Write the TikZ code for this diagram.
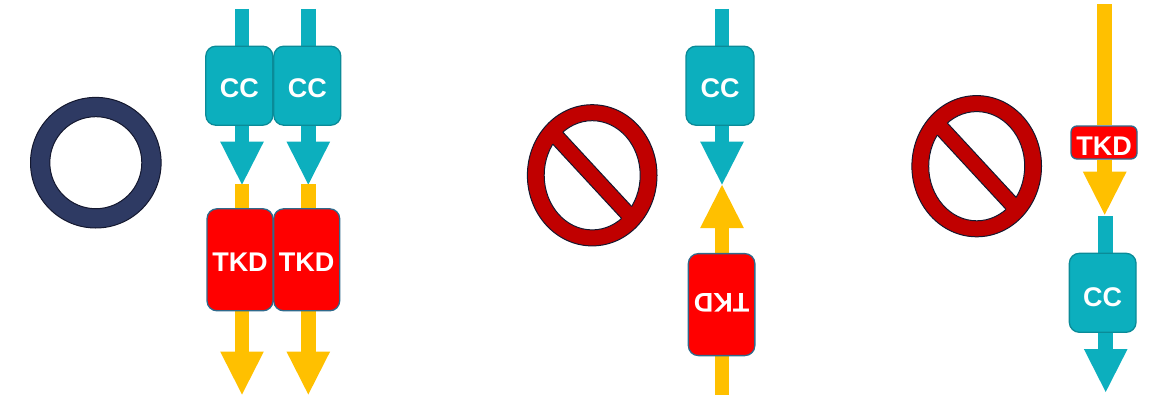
\documentclass[tikz,border=0pt]{standalone}
\usepackage{fontspec}
\setmainfont{Liberation Sans}
\usetikzlibrary{arrows.meta,backgrounds}
\definecolor{teal1}{HTML}{0CAFBE}
\definecolor{teal2}{HTML}{0A8B98}
\definecolor{red1}{HTML}{FF0000}
\definecolor{red2}{HTML}{2F6A8C}
\definecolor{gold1}{HTML}{FFC000}
\definecolor{navy1}{HTML}{2E3A63}
\definecolor{ink1}{HTML}{14182F}
\definecolor{stop1}{HTML}{C00000}
\newcommand{\lifted}[2]{\smash{\raisebox{-#1pt}{#2}}}
\tikzset{
  x=1pt,y=-1pt,
  box/.style={draw,rounded corners=10pt,inner sep=0pt,line width=1.3pt,text=white,
    font=\fontsize{27}{27}\selectfont\bfseries},
  ccbox/.style={box,fill=teal1,draw=teal2,minimum width=67pt,minimum height=79pt},
  tkdbox/.style={box,fill=red1,draw=red2,minimum width=66pt,minimum height=102pt},
  tkdsmall/.style={box,fill=red1,draw=red2,minimum width=66pt,minimum height=33pt,rounded corners=6pt},
  shaft/.style={line width=14.6pt},
  tealline/.style={shaft,draw=teal1},
  goldline/.style={shaft,draw=gold1},
  tipped/.style={-{Triangle[length=43pt,width=43.7pt,line width=0pt]}},
  nosign/.pic={
    \fill[stop1,draw=ink1,line width=1pt] (0,0) ellipse [x radius=64.8,y radius=70.6];
    \fill[white,draw=ink1,line width=1pt] (0,0) ellipse [x radius=48,y radius=54.6];
    \fill[stop1] (-41+5.33,-44.3-5.67) -- (41+5.33,44.3-5.67) -- (41-5.33,44.3+5.67) -- (-41-5.33,-44.3+5.67) -- cycle;
    \begin{scope}
      \clip (0,0) ellipse [x radius=48,y radius=54.6];
      \draw[ink1,line width=1pt] (-41+5.33,-44.3-5.67) -- (41+5.33,44.3-5.67);
      \draw[ink1,line width=1pt] (-41-5.33,-44.3+5.67) -- (41-5.33,44.3+5.67);
    \end{scope}
  }
}
\begin{document}
\begin{tikzpicture}
\useasboundingbox (0,0) rectangle (1150,396);
% ring
\fill[navy1,draw=ink1,line width=1pt,even odd rule] (95.8,162.7) circle [radius=65.3] (95.8,162.7) circle [radius=46];
% signs
\pic at (592.2,175.3) {nosign};
\pic at (976.7,166.2) {nosign};
% left group boxes
\node[ccbox] (cca) at (239.3,85.7) {\lifted{12}{CC}};
\node[ccbox] (ccb) at (307.3,85.7) {\lifted{12}{CC}};
\node[tkdbox] (tka) at (240,259.8) {\lifted{12}{TKD}};
\node[tkdbox] (tkb) at (306.7,259.8) {\lifted{12}{TKD}};
% middle group boxes
\node[ccbox,minimum width=68pt] (ccc) at (720,85.7) {\lifted{12}{CC}};
\node[tkdbox,minimum width=66.5pt,rotate=180] (tkc) at (721.6,304.6) {\lifted{11}{TKD}};
% right group boxes
\node[tkdsmall] (tkd) at (1104,142.5) {\lifted{12.9}{TKD}};
\node[ccbox,minimum width=66.7pt] (ccd) at (1102.7,292.8) {\lifted{13.6}{CC}};
% free ends
\coordinate (sa) at (242,9);
\coordinate (sb) at (308.3,9);
\coordinate (ta) at (242,184.6);
\coordinate (tb) at (308.3,184.6);
\coordinate (ya) at (242,184.3);
\coordinate (yb) at (308.3,184.3);
\coordinate (ea) at (242,394.5);
\coordinate (eb) at (308.3,394.5);
\coordinate (sc) at (722,9);
\coordinate (tc) at (722,184.6);
\coordinate (uc) at (722,185);
\coordinate (lc) at (722,394.5);
\coordinate (sd) at (1104.7,4.3);
\coordinate (td) at (1104.7,214.7);
\coordinate (se) at (1105.7,216.3);
\coordinate (te) at (1105.7,392);
\begin{scope}[on background layer]
  \draw[tealline] (sa) -- (sa |- cca.north);
  \draw[tealline] (sb) -- (sb |- ccb.north);
  \draw[tealline,tipped] (sa |- cca.south) -- (ta);
  \draw[tealline,tipped] (sb |- ccb.south) -- (tb);
  \draw[goldline] (ya) -- (ya |- tka.north);
  \draw[goldline] (yb) -- (yb |- tkb.north);
  \draw[goldline,tipped] (ya |- tka.south) -- (ea);
  \draw[goldline,tipped] (yb |- tkb.south) -- (eb);
  \draw[tealline] (sc) -- (sc |- ccc.north);
  \draw[tealline,tipped] (sc |- ccc.south) -- (tc);
  \draw[goldline,tipped] (uc |- tkc.north) -- (uc);
  \draw[goldline] (lc) -- (lc |- tkc.south);
  \draw[goldline] (sd) -- (sd |- tkd.north);
  \draw[goldline,tipped] (sd |- tkd.south) -- (td);
  \draw[tealline] (se) -- (se |- ccd.north);
  \draw[tealline,tipped] (se |- ccd.south) -- (te);
\end{scope}
\end{tikzpicture}
\end{document}
